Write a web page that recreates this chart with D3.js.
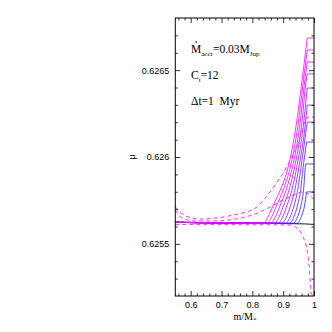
<!DOCTYPE html>
<html>
<head>
<meta charset="utf-8">
<script src="https://cdn.jsdelivr.net/npm/d3@7"></script>
<style>
  body { margin: 0; background: #fff; }
  svg text { fill: #000; }
</style>
</head>
<body>
<svg id="chart" width="332" height="332"></svg>
<script>
// axis ticks and labels
var xMajor = [0.6, 0.7, 0.8, 0.9, 1];
var xMajorLabels = ["0.6", "0.7", "0.8", "0.9", "1"];
var xMinor = [0.56, 0.58, 0.62, 0.64, 0.66, 0.68, 0.72, 0.74, 0.76, 0.78,
              0.82, 0.84, 0.86, 0.88, 0.92, 0.94, 0.96, 0.98];
var yMajor = [0.6255, 0.626, 0.6265];
var yMajorLabels = ["0.6255", "0.626", "0.6265"];
var yMinor = [0.6253, 0.6254, 0.6256, 0.6257, 0.6258, 0.6259,
              0.6261, 0.6262, 0.6263, 0.6264, 0.6266, 0.6267];

// black reference profile
var blackLine = [[0.55, 0.625626], [0.70, 0.625621], [0.90, 0.625617], [0.97, 0.625615], [1.0, 0.625612]];

// solid profiles, magenta (first) to blue (last)
var c0 = [[0.55, 0.625624], [0.70, 0.625620], [0.835, 0.625618], [0.850, 0.625653], [0.867, 0.625718], [0.890, 0.625808], [0.9157, 0.625938], [0.9417, 0.626178], [0.961, 0.626438], [0.978, 0.626685], [1, 0.626685]];
var c1 = [[0.55, 0.625624], [0.70, 0.625620], [0.847, 0.625618], [0.862, 0.625653], [0.878, 0.625718], [0.8995, 0.625808], [0.9227, 0.625938], [0.9476, 0.626178], [0.9655, 0.626438], [0.978, 0.626616], [1, 0.626616]];
var c2 = [[0.55, 0.625624], [0.70, 0.625620], [0.859, 0.625618], [0.874, 0.625653], [0.8896, 0.625718], [0.909, 0.625808], [0.9297, 0.625938], [0.9535, 0.626178], [0.970, 0.626438], [0.978, 0.626547], [1, 0.626547]];
var c3 = [[0.55, 0.625624], [0.70, 0.625620], [0.871, 0.625618], [0.886, 0.625653], [0.901, 0.625718], [0.9185, 0.625808], [0.9367, 0.625938], [0.9594, 0.626178], [0.9745, 0.626438], [0.978, 0.626478], [1, 0.626478]];
var c4 = [[0.55, 0.625624], [0.70, 0.625620], [0.883, 0.625618], [0.898, 0.625653], [0.912, 0.625718], [0.928, 0.625808], [0.9437, 0.625938], [0.9653, 0.626178], [0.978, 0.626397], [1, 0.626397]];
var c5 = [[0.55, 0.625624], [0.70, 0.625620], [0.8955, 0.625618], [0.910, 0.625653], [0.9235, 0.625718], [0.9375, 0.625808], [0.9507, 0.625938], [0.9712, 0.626178], [0.978, 0.626299], [1, 0.626299]];
var c6 = [[0.55, 0.625624], [0.70, 0.625620], [0.9076, 0.625618], [0.922, 0.625653], [0.935, 0.625718], [0.947, 0.625808], [0.9577, 0.625938], [0.978, 0.626201], [1, 0.626201]];
var c7 = [[0.55, 0.625624], [0.70, 0.625620], [0.9197, 0.625618], [0.934, 0.625653], [0.946, 0.625718], [0.9565, 0.625808], [0.9647, 0.625938], [0.976, 0.626086], [1, 0.626086]];
var c8 = [[0.55, 0.625624], [0.70, 0.625620], [0.9318, 0.625618], [0.946, 0.625653], [0.9574, 0.625718], [0.966, 0.625808], [0.9717, 0.625938], [0.9735, 0.625960], [1, 0.625960]];
var c9 = [[0.55, 0.625624], [0.70, 0.625620], [0.944, 0.625618], [0.958, 0.625653], [0.969, 0.625718], [0.976, 0.625799], [1, 0.625799]];
var solidCurves = [c0, c1, c2, c3, c4, c5, c6, c7, c8, c9];

// dashed profiles
var dashA = [[0.5501, 0.625712], [0.5847, 0.625660], [0.6302, 0.625643], [0.7372, 0.625666], [0.8086, 0.625705], [0.8410, 0.625762], [0.8735, 0.625839], [0.9059, 0.625925], [0.9277, 0.626002], [0.9491, 0.626079], [0.9611, 0.626155], [0.9741, 0.626224], [1, 0.626230]];
var dashB = [[0.5501, 0.625695], [0.5717, 0.625649], [0.6139, 0.625632], [0.6788, 0.625632], [0.7437, 0.625643], [0.8086, 0.625672], [0.8508, 0.625706], [0.8930, 0.625747], [0.9384, 0.625784], [0.9676, 0.625800], [0.9806, 0.625787], [0.9968, 0.625761], [1, 0.625761]];
var dashC = [[0.5501, 0.625611], [0.80, 0.625610], [0.9222, 0.625609], [0.9482, 0.625586], [0.9654, 0.625537], [0.9790, 0.625450], [0.9855, 0.625345], [0.9887, 0.625249], [0.9903, 0.625212], [1, 0.625209]];

(function ()
{
    var svg = d3.select("#chart");
    var pL = 175.3, pR = 314, pT = 18, pB = 296;

    var x = d3.scaleLinear().domain([0.55, 1]).range([pL, pR]);
    var y = d3.scaleLinear().domain([0.6252, 0.6268]).range([pB, pT]);

    svg.append("defs").append("clipPath").attr("id", "plot")
        .append("rect").attr("x", pL).attr("y", pT)
        .attr("width", pR - pL).attr("height", pB - pT);

    var line = d3.line()
        .x(function (d) { return x(d[0]); })
        .y(function (d) { return y(d[1]); })
        .curve(d3.curveMonotoneX);

    // smooth through the profile, straight step at the end
    function stepPath(pts)
    {
        var last = pts[pts.length - 1];
        return line(pts.slice(0, -1)) + "L" + x(last[0]) + "," + y(last[1]);
    }

    var plot = svg.append("g").attr("clip-path", "url(#plot)");

    plot.append("path")
        .attr("d", line(blackLine))
        .attr("fill", "none")
        .attr("stroke", "#000")
        .attr("stroke-width", 0.9);

    var colour = d3.interpolateRgb("#ff00ff", "#2020ff");
    solidCurves.slice().reverse().forEach(function (c, i)
    {
        var k = solidCurves.length - 1 - i;
        plot.append("path")
            .attr("d", stepPath(c))
            .attr("fill", "none")
            .attr("stroke", colour(k / (solidCurves.length - 1)))
            .attr("stroke-width", 0.8);
    });

    [dashA, dashB, dashC].forEach(function (c)
    {
        plot.append("path")
            .attr("d", stepPath(c))
            .attr("fill", "none")
            .attr("stroke", "#ff30ff")
            .attr("stroke-width", 1)
            .attr("stroke-dasharray", "4,3");
    });

    // axes with inward ticks on all four sides
    function addAxis(axis, tx, ty)
    {
        var g = svg.append("g").attr("transform", "translate(" + tx + "," + ty + ")").call(axis);
        g.select(".domain").remove();
        g.selectAll("line").attr("stroke", "#000").attr("stroke-width", 0.8);
        g.selectAll("text").attr("font-family", "'Liberation Sans', Arial, sans-serif").attr("font-size", 9).attr("fill", "#000");
        return g;
    }

    addAxis(d3.axisBottom(x).tickValues(xMajor).tickSize(-5).tickPadding(6)
        .tickFormat(function (d, i) { return xMajorLabels[i]; }), 0, pB);
    addAxis(d3.axisBottom(x).tickValues(xMinor).tickSize(-2.5).tickFormat(""), 0, pB);
    addAxis(d3.axisTop(x).tickValues(xMajor).tickSize(-5).tickFormat(""), 0, pT);
    addAxis(d3.axisTop(x).tickValues(xMinor).tickSize(-2.5).tickFormat(""), 0, pT);

    addAxis(d3.axisLeft(y).tickValues(yMajor).tickSize(-5).tickPadding(6)
        .tickFormat(function (d, i) { return yMajorLabels[i]; }), pL, 0);
    addAxis(d3.axisLeft(y).tickValues(yMinor).tickSize(-2.5).tickFormat(""), pL, 0);
    addAxis(d3.axisRight(y).tickValues(yMajor).tickSize(-5).tickFormat(""), pR, 0);
    addAxis(d3.axisRight(y).tickValues(yMinor).tickSize(-2.5).tickFormat(""), pR, 0);

    svg.append("rect")
        .attr("x", pL).attr("y", pT)
        .attr("width", pR - pL).attr("height", pB - pT)
        .attr("fill", "none").attr("stroke", "#000").attr("stroke-width", 1);

    // axis titles
    var serif = "'Liberation Serif', 'Times New Roman', serif";
    var xt = svg.append("text")
        .attr("x", 245).attr("y", 320)
        .attr("text-anchor", "middle")
        .attr("font-family", serif).attr("font-size", 10);
    xt.append("tspan").text("m/M");
    xt.append("tspan").attr("font-size", 7).attr("dy", 2).text("*");

    svg.append("text")
        .attr("transform", "translate(135,157) rotate(-90)")
        .attr("text-anchor", "middle")
        .attr("font-family", serif).attr("font-size", 11)
        .text("\u03bc");

    // annotations
    var t1 = svg.append("text").attr("x", 191).attr("y", 53)
        .attr("font-family", serif).attr("font-size", 11.5);
    t1.append("tspan").text("M");
    t1.append("tspan").attr("font-size", 7).attr("dy", 2.5).text("accr");
    t1.append("tspan").attr("dy", -2.5).text("=0.03M");
    t1.append("tspan").attr("font-size", 7).attr("dy", 2.5).text("Jup");
    // dot over the M
    svg.append("circle").attr("cx", 196.2).attr("cy", 42).attr("r", 0.8).attr("fill", "#000");

    var t2 = svg.append("text").attr("x", 191).attr("y", 79)
        .attr("font-family", serif).attr("font-size", 11.5);
    t2.append("tspan").text("C");
    t2.append("tspan").attr("font-size", 7).attr("dy", 2.5).text("t");
    t2.append("tspan").attr("dy", -2.5).text("=12");

    svg.append("text").attr("x", 191).attr("y", 105)
        .attr("font-family", serif).attr("font-size", 11.5)
        .attr("xml:space", "preserve")
        .text("\u0394t=1  Myr");
})();
</script>
</body>
</html>
